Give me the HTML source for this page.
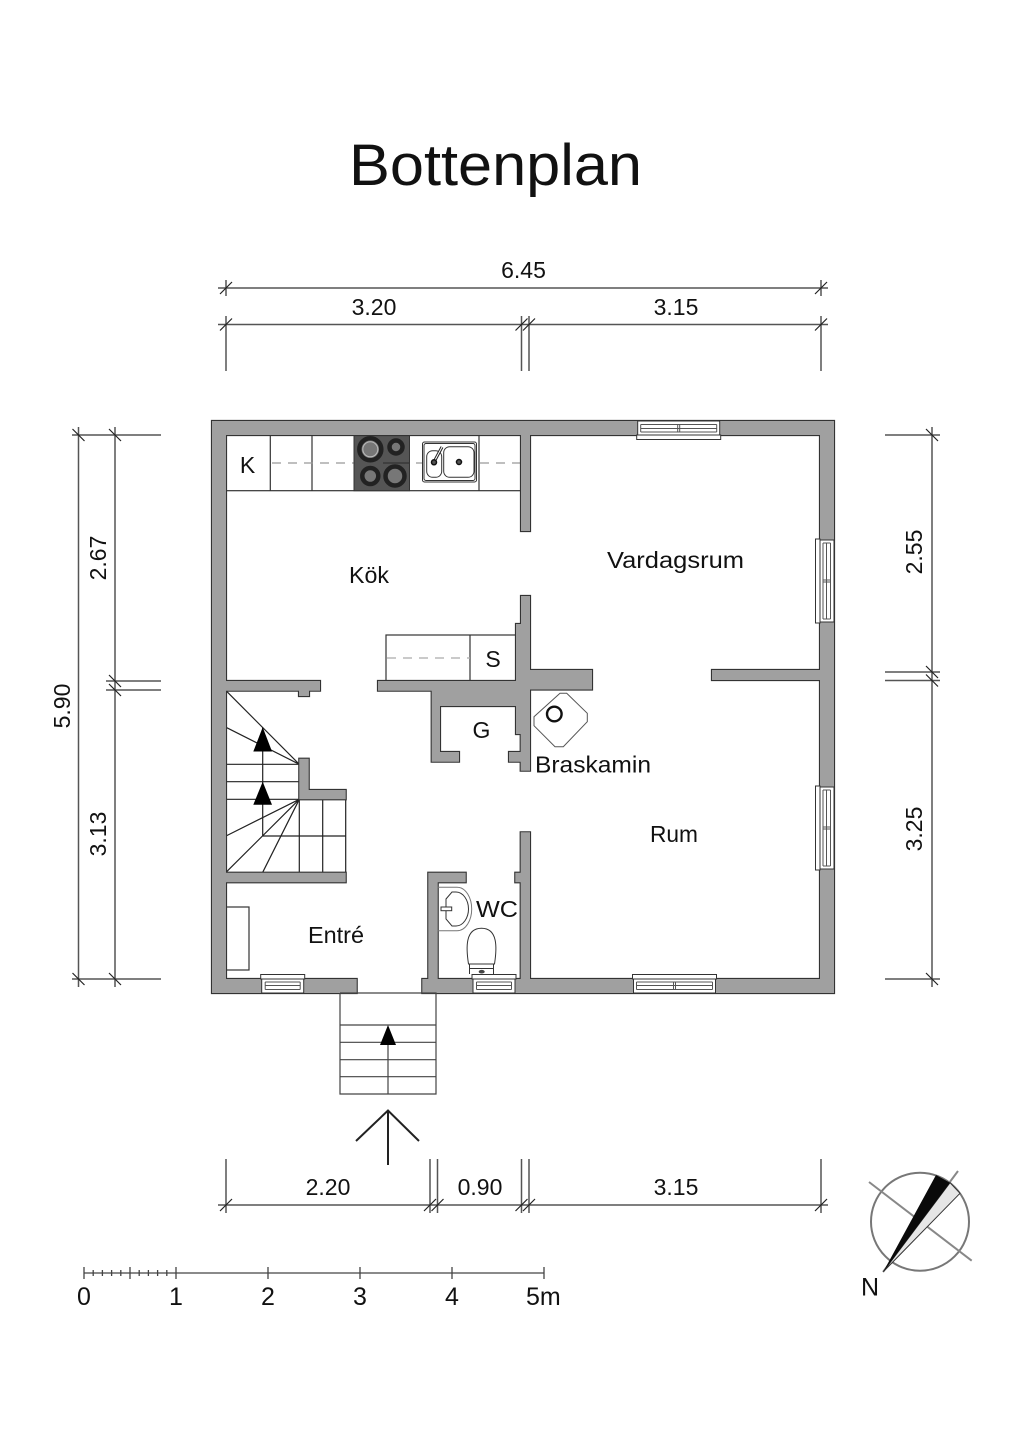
<!DOCTYPE html>
<html><head><meta charset="utf-8"><style>
html,body{margin:0;padding:0;background:#fff}
svg{display:block}
text{font-family:"Liberation Sans",sans-serif;fill:#111}
.d{font-size:23px;text-anchor:middle}
.r{font-size:23px}
.s{font-size:25px;text-anchor:middle}
</style></head><body>
<svg width="1024" height="1448" viewBox="0 0 1024 1448" xmlns="http://www.w3.org/2000/svg">
<defs>
<g id="w" fill="#a0a0a0">
<path d="M212 421H834V993H422.300V979H820V435H226V979H356.700V993H212Z"/>
<path d="M521 435H530V531H521Z"/>
<path d="M521 596H530V670H592V689.500H530V770.700H520.700V761.700H509V752H520.700V734H516V706H440V752H459V761.700H431.700V690.700H378V681H516V624H521Z"/>
<path d="M226 681H320V690.700H309V696H299V690.700H226Z"/>
<path d="M299.300 758.700H308.700V790H345.700V799.300H299.300Z"/>
<path d="M226 872.700H345.700V882.300H226Z"/>
<path d="M428.300 872.700H465.700V882.300H437.700V979H428.300Z"/>
<path d="M520.700 832.300H530V979H520.700V882.300H515.300V872.700H520.700Z"/>
<path d="M712 670H820V680H712Z"/>
</g>
<g id="win2" stroke="#333" stroke-width="1" fill="#fff">
<rect x="0" y="0" width="84" height="4.500"/>
<rect x="1" y="4.500" width="82" height="14"/>
<path d="M4 7.500H80M4 11H80M4 15H80M4 7.500V15M80 7.500V15M41 7.500V15M43 7.500V15" fill="none" stroke="#555"/>
</g>
<g id="win1" stroke="#333" stroke-width="1" fill="#fff">
<rect x="0" y="0" width="44" height="4.500"/>
<rect x="1" y="4.500" width="42" height="14"/>
<path d="M4.500 7.500H39.500M4.500 11H39.500M4.500 15H39.500M4.500 7.500V15M39.500 7.500V15" fill="none" stroke="#555"/>
</g>
</defs>

<rect width="1024" height="1448" fill="#fff"/>

<text x="349" y="185" font-size="58" textLength="293" lengthAdjust="spacingAndGlyphs">Bottenplan</text>

<!-- dimensions -->
<g stroke="#555" stroke-width="1.500" fill="none">
<path d="M218 288H828M218 324.500H828"/>
<path d="M226 280V296M821 280V296M226 316V371M521.500 316V371M529 316V371M821 316V371"/>
<path d="M72 435H161M106 681H161M106 690H161M72 979H161"/>
<path d="M78.500 427V987M115 427V987"/>
<path d="M885 435H940M885 672H940M885 680.500H940M885 979H940"/>
<path d="M932 427V987"/>
<path d="M218 1205H828"/>
<path d="M226 1159V1213M430 1159V1213M437.500 1159V1213M521.500 1159V1213M529 1159V1213M821 1159V1213"/>
</g>
<g stroke="#222" stroke-width="1.200" fill="none">
<path d="M220 294L232 282M815 294L827 282M220 330.500L232 318.500M515.500 330.500L527.500 318.500M523 330.500L535 318.500M815 330.500L827 318.500"/>
<path d="M220 1211L232 1199M424 1211L436 1199M431.500 1211L443.500 1199M515.500 1211L527.500 1199M523 1211L535 1199M815 1211L827 1199"/>
<path d="M72.500 429L84.500 441M109 429L121 441M109 675L121 687M109 684L121 696M72.500 973L84.500 985M109 973L121 985"/>
<path d="M926 429L938 441M926 666L938 678M926 674.500L938 686.500M926 973L938 985"/>
</g>
<g>
<text class="d" x="523.500" y="278">6.45</text>
<text class="d" x="374" y="315">3.20</text>
<text class="d" x="676" y="315">3.15</text>
<text class="d" x="328" y="1195">2.20</text>
<text class="d" x="480" y="1195">0.90</text>
<text class="d" x="676" y="1195">3.15</text>
<text class="d" transform="translate(70 706) rotate(-90)">5.90</text>
<text class="d" transform="translate(106 558) rotate(-90)">2.67</text>
<text class="d" transform="translate(106 834) rotate(-90)">3.13</text>
<text class="d" transform="translate(922 552) rotate(-90)">2.55</text>
<text class="d" transform="translate(922 829) rotate(-90)">3.25</text>
</g>

<!-- kitchen counter -->
<g fill="#fff" stroke="#333" stroke-width="1.200">
<rect x="226" y="435" width="295" height="55.700"/>
<path d="M270.300 435V490.700M312 435V490.700M479 435V490.700" fill="none"/>
<rect x="386" y="635" width="130" height="46"/>
<path d="M470 635V681" fill="none"/>
<rect x="226" y="907" width="23" height="63"/>
</g>
<path d="M272 463H521" stroke="#999" stroke-width="1.200" stroke-dasharray="9 7" fill="none"/>
<path d="M387 658H470" stroke="#aaa" stroke-width="1.200" stroke-dasharray="9 7" fill="none"/>
<rect x="354" y="435" width="55.500" height="55.700" fill="#555" stroke="#333"/>
<path d="M383 463H409" stroke="#333" stroke-width="1.200"/>
<g stroke="#222" fill="#777">
<circle cx="370.300" cy="449.300" r="11" stroke-width="4.500"/>
<circle cx="396" cy="447" r="6.500" stroke-width="4.500"/>
<circle cx="370.300" cy="476" r="8" stroke-width="4.500"/>
<circle cx="395" cy="476" r="9.500" stroke-width="4.500"/>
</g>
<circle cx="370.300" cy="449.300" r="7.500" fill="none" stroke="#bbb" stroke-width="1"/>
<g fill="#fff" stroke="#333" stroke-width="1">
<rect x="422.500" y="442" width="54" height="40" rx="2"/>
<rect x="424" y="443.500" width="51" height="37" rx="2"/>
<rect x="426.700" y="450.700" width="15" height="26.600" rx="6"/>
<rect x="443.700" y="446.700" width="30.300" height="30.600" rx="6"/>
</g>
<path d="M434 462L442 447" stroke="#222" stroke-width="3"/>
<path d="M434.500 461L442 447" stroke="#fff" stroke-width="1"/>
<circle cx="434" cy="462.300" r="2.500" fill="#555" stroke="#111" stroke-width="1.500"/>
<circle cx="459" cy="462" r="2.500" fill="#555" stroke="#111" stroke-width="1.500"/>

<!-- stairs -->
<g stroke="#222" stroke-width="1.200" fill="none">
<path d="M226 690.700L299.300 764.300M226 727.300L299.300 764.300"/>
<path d="M226 764.300H299.300M226 781.700H299.300M226 799.300H299.300"/>
<path d="M299.300 799.300L226 836M299.300 799.300L226 872.300M299.300 799.300L262.700 872.300"/>
<path d="M262.700 836H345.700M299.300 799.300V872.700M322.700 799.300V872.700M345.700 799.300V872.700"/>
<path d="M262.700 727.300V836"/>
</g>
<path d="M262.700 727.300L253.300 751.500H272Z" fill="#000"/>
<path d="M262.700 781.700L253.300 804.700H272Z" fill="#000"/>

<!-- walls -->
<use href="#w" stroke="#333" stroke-width="2.200"/>
<use href="#w" stroke="none"/>

<!-- windows -->
<use href="#win1" transform="translate(260.700 974.500)"/>
<use href="#win1" transform="translate(472 974.500)"/>
<use href="#win2" transform="translate(632.500 974.500)"/>
<use href="#win2" transform="matrix(1 0 0 -1 636.700 439.500)"/>
<use href="#win2" transform="matrix(0 1 1 0 815.500 539)"/>
<use href="#win2" transform="matrix(0 1 1 0 815.500 786)"/>

<!-- WC -->
<g fill="none" stroke="#333" stroke-width="1">
<path d="M437.700 887.300H457C466 887.300 471.700 898 471.700 909S466 930.700 457 930.700H437.700" stroke="#777"/>
<path d="M446 899L452 892H456C463 892 468.500 900 468.500 909S463 926 456 926H452L446 919Z"/>
<rect x="441" y="907" width="10.700" height="3.700" fill="#fff"/>
<path d="M468.500 964C466 948 465 928.300 481.500 928.300S497 948 494.500 964Z" fill="#fff"/>
<path d="M468.700 964H494M469.500 964V974M493.500 964V974M469.500 968.500H493.500" fill="none"/>
</g>
<ellipse cx="481.700" cy="971.700" rx="3" ry="1.800" fill="#444"/>

<!-- Braskamin -->
<path d="M560 693.300H566.700L587.300 713.300V721.700L563.300 746.700H555L534 725.700V716.700Z" fill="#fff" stroke="#555" stroke-width="1"/>
<circle cx="554.300" cy="714" r="7.300" fill="none" stroke="#111" stroke-width="2.400"/>

<!-- outside stairs -->
<g stroke="#444" stroke-width="1.200" fill="none">
<path d="M340 993V1094H436V993H340M340 1025H436M340 1042.300H436M340 1059.700H436M340 1076.700H436M388 1045V1094"/>
</g>
<path d="M388 1025L380 1045H396Z" fill="#000"/>
<path d="M356 1141L388 1110.500L419 1141M388 1110V1165" fill="none" stroke="#222" stroke-width="2"/>

<!-- room labels -->
<text class="r" x="247.500" y="473" text-anchor="middle">K</text>
<text class="r" x="349" y="583" textLength="40" lengthAdjust="spacingAndGlyphs">Kök</text>
<text class="r" x="607" y="568" textLength="137" lengthAdjust="spacingAndGlyphs">Vardagsrum</text>
<text class="r" x="493" y="667" text-anchor="middle">S</text>
<text class="r" x="481.500" y="738" text-anchor="middle">G</text>
<text class="r" x="535" y="772.500" textLength="116" lengthAdjust="spacingAndGlyphs">Braskamin</text>
<text class="r" x="650" y="842" textLength="48" lengthAdjust="spacingAndGlyphs">Rum</text>
<text class="r" x="476" y="917" textLength="42" lengthAdjust="spacingAndGlyphs">WC</text>
<text class="r" x="308" y="943" textLength="56" lengthAdjust="spacingAndGlyphs">Entré</text>

<!-- scale -->
<g stroke="#444" stroke-width="1.300" fill="none">
<path d="M84 1273H544"/>
<path d="M84 1267V1279M130 1267V1279M176 1267V1279M268 1267V1279M360 1267V1279M452 1267V1279M544 1267V1279"/>
<path d="M93.200 1270V1276M102.400 1270V1276M111.600 1270V1276M120.800 1270V1276M139.200 1270V1276M148.400 1270V1276M157.600 1270V1276M166.800 1270V1276"/>
</g>
<text class="s" x="84" y="1305">0</text>
<text class="s" x="176" y="1305">1</text>
<text class="s" x="268" y="1305">2</text>
<text class="s" x="360" y="1305">3</text>
<text class="s" x="452" y="1305">4</text>
<text x="526" y="1305" font-size="25">5m</text>

<!-- compass -->
<circle cx="920" cy="1221.700" r="49" fill="#fff" stroke="#777" stroke-width="2"/>
<path d="M869 1182L971.700 1260.700M958 1171L883 1272" stroke="#888" stroke-width="2" fill="none"/>
<path d="M883.300 1271.700L950 1182.700L960 1193.300Z" fill="#e6e6e6" stroke="#333" stroke-width="1"/>
<path d="M883.300 1271.700L936 1175L950 1182.700Z" fill="#0a0a0a"/>
<text x="861" y="1295.500" font-size="25">N</text>
</svg>
</body></html>
